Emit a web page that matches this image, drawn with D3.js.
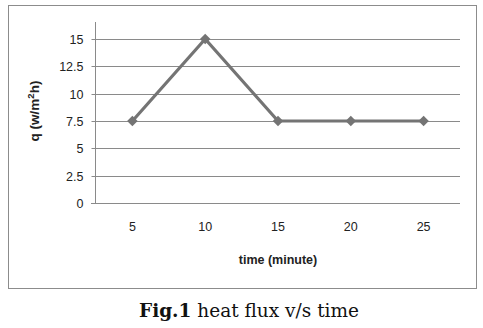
<!DOCTYPE html>
<html><head><meta charset="utf-8">
<script src="https://cdn.jsdelivr.net/npm/d3@7"></script>
<style>body{margin:0;background:#fff}</style>
</head><body>
<svg id="c" width="483" height="328"></svg>
<script>
const categories = ["5","10","15","20","25"];
const values = [7.5, 15, 7.5, 7.5, 7.5];
const yTicks = [0, 2.5, 5, 7.5, 10, 12.5, 15];

const svg = d3.select("#c");
const plotTop = 22, plotBottom = 203, plotLeft = 96, plotRight = 460;
const sans = "Liberation Sans, Arial, sans-serif";

// outer chart frame
svg.append("rect").attr("x", 8.5).attr("y", 5.5).attr("width", 468).attr("height", 283)
  .attr("fill", "#fff").attr("stroke", "#8c8c8c").attr("stroke-width", 1);

const x = d3.scaleBand().domain(categories).range([plotLeft, plotRight]);
const y = d3.scaleLinear().domain([0, 16.55]).range([plotBottom, plotTop]);

// gridlines
svg.append("g").selectAll("line").data(yTicks.filter(d => d > 0)).join("line")
  .attr("x1", plotLeft).attr("x2", plotRight)
  .attr("y1", d => Math.round(y(d)) + 0.5).attr("y2", d => Math.round(y(d)) + 0.5)
  .attr("stroke", "#8a8a8a").attr("stroke-width", 1);

// y axis
const ya = svg.append("g").attr("transform", `translate(${plotLeft - 0.5},0)`)
  .call(d3.axisLeft(y).tickValues(yTicks).tickSize(4).tickPadding(8).tickFormat(d => d));
ya.select(".domain").attr("stroke", "#8a8a8a").attr("d", `M0,${plotTop}V${plotBottom + 0.5}`);
ya.selectAll(".tick line").attr("stroke", "#8a8a8a");
ya.selectAll(".tick").attr("transform", d => `translate(0,${Math.round(y(d)) + 0.5})`);
ya.selectAll("text").attr("font-family", sans).attr("font-size", 12.5).attr("fill", "#222");

// x axis
const xa = svg.append("g").attr("transform", `translate(0,${plotBottom + 0.5})`)
  .call(d3.axisBottom(x).tickSize(0).tickPadding(19));
xa.select(".domain").attr("stroke", "#8a8a8a").attr("d", `M${plotLeft - 5},0H${plotRight}`);
xa.selectAll("text").attr("font-family", sans).attr("font-size", 12.5).attr("fill", "#222");

// line
const cx = d => x(d) + x.bandwidth() / 2;
const line = d3.line().x((d, i) => cx(categories[i])).y(d => y(d));
svg.append("path").datum(values).attr("d", line)
  .attr("fill", "none").attr("stroke", "#747474").attr("stroke-width", 3.2).attr("stroke-linejoin", "round");

// diamond markers
svg.append("g").selectAll("path").data(values).join("path")
  .attr("transform", (d, i) => `translate(${cx(categories[i])},${y(d)})`)
  .attr("d", d3.symbol().type(d3.symbolDiamond2).size(70))
  .attr("fill", "#747474");

// axis titles
svg.append("text").attr("x", (plotLeft + plotRight) / 2).attr("y", 264).attr("text-anchor", "middle")
  .attr("font-family", sans).attr("font-size", 12.5).attr("font-weight", "bold").attr("fill", "#222")
  .text("time (minute)");
const yt = svg.append("text").attr("transform", "translate(39,111) rotate(-90)").attr("text-anchor", "middle")
  .attr("font-family", sans).attr("font-size", 13.5).attr("font-weight", "bold").attr("fill", "#222");
yt.append("tspan").text("q (w/m");
yt.append("tspan").attr("dy", -5).attr("font-size", 9.5).text("2");
yt.append("tspan").attr("dy", 5).text("h)");

// caption
const cap = svg.append("text").attr("x", 249).attr("y", 317).attr("text-anchor", "middle")
  .attr("font-family", "'DejaVu Serif', 'Liberation Serif', serif").attr("font-size", 18.5).attr("fill", "#111");
cap.append("tspan").attr("font-weight", "bold").text("Fig.1");
cap.append("tspan").text(" heat flux v/s time");
</script>
</body></html>
